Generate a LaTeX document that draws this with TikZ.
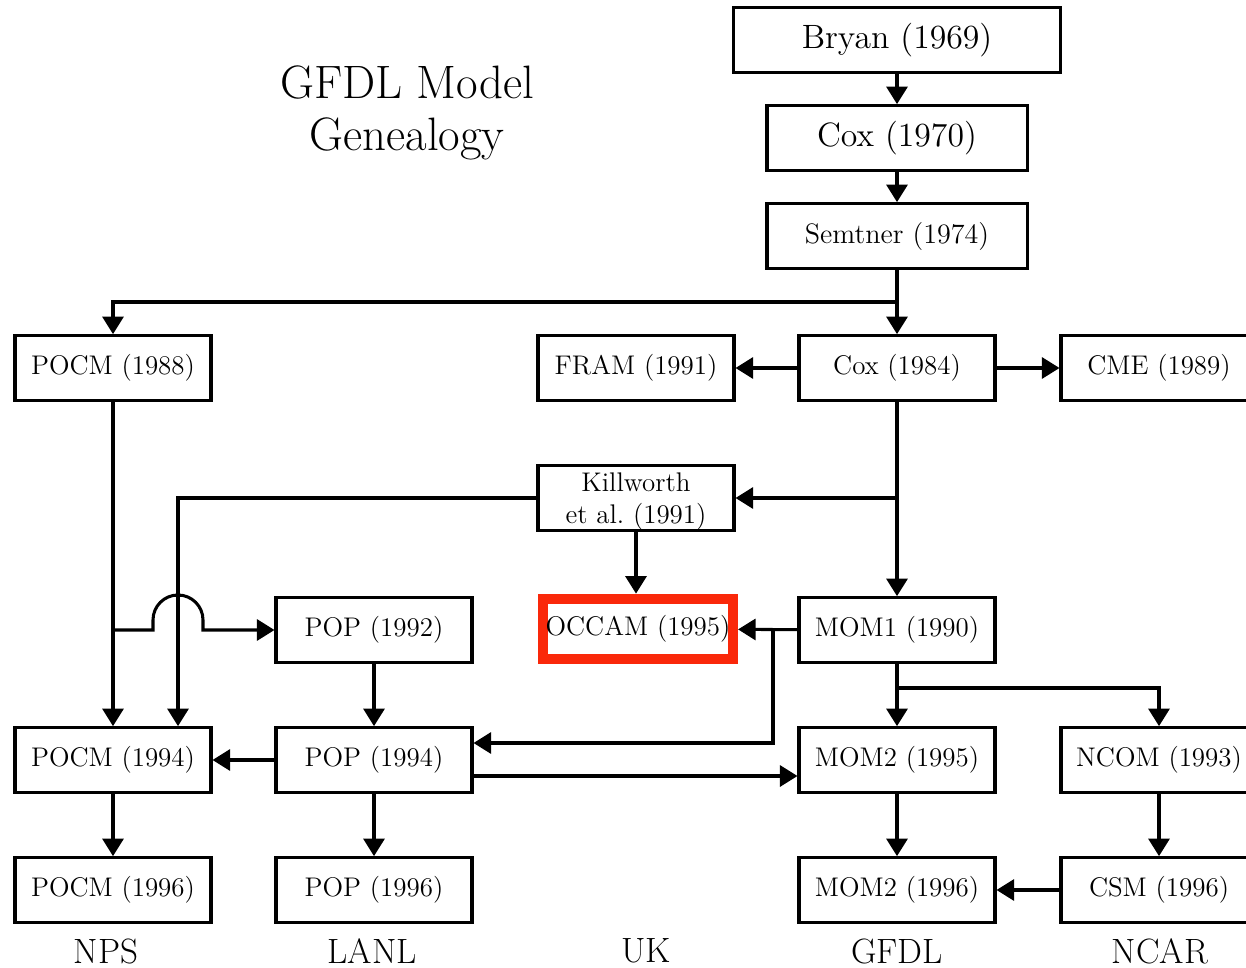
\documentclass[tikz,border=0pt]{standalone}
\usepackage{tikz}
\usetikzlibrary{arrows.meta}

\definecolor{occamred}{RGB}{250,40,10}

\tikzset{
  model/.style={draw, line width=1.3pt, inner sep=0pt, minimum width=2.94cm, minimum height=0.97cm, font=\fontsize{11.5}{13.5}\selectfont},
  wide/.style={model, minimum width=3.9cm, font=\Large},
  arr/.style={line width=1.3pt, -{Triangle[length=7.5pt,width=9pt]}},
  lab/.style={font=\fontsize{15}{17}\selectfont}
}

\begin{document}
\begin{tikzpicture}[x=0.015cm, y=-0.015cm]

\useasboundingbox (0,0) rectangle (1246,968);

\node [align=center, font=\fontsize{20}{22}\selectfont]  (title) at (407,113) {GFDL Model\\Genealogy};

% -------- GFDL trunk -----------
\node [wide, minimum width=4.9cm]  (bryan)   at (897,40)  {Bryan (1969)};
\node [wide]                       (cox70)   at (897,138) {Cox (1970)};
\node [wide, font=\large]          (semtner) at (897,236) {Semtner (1974)};

\node [model]  (pocm88) at (113,368)  {POCM (1988)};
\node [model]  (fram)   at (636,368)  {FRAM (1991)};
\node [model]  (cox84)  at (897,368)  {Cox (1984)};
\node [model]  (cme)    at (1159,368) {CME (1989)};

\node [model, align=center, text depth=0pt]  (killworth) at (636,498) {Killworth\\et al.\ (1991)};

\node [model]  (pop92)  at (374,630)  {POP (1992)};
\node [model, draw=occamred, line width=4.3pt, minimum width=2.85cm, minimum height=0.91cm]  (occam) at (638,629) {OCCAM (1995)};
\node [model]  (mom1)   at (897,630)  {MOM1 (1990)};

\node [model]  (pocm94) at (113,760)  {POCM (1994)};
\node [model]  (pop94)  at (374,760)  {POP (1994)};
\node [model]  (mom295) at (897,760)  {MOM2 (1995)};
\node [model]  (ncom)   at (1159,760) {NCOM (1993)};

\node [model]  (pocm96) at (113,890)  {POCM (1996)};
\node [model]  (pop96)  at (374,890)  {POP (1996)};
\node [model]  (mom296) at (897,890)  {MOM2 (1996)};
\node [model]  (csm)    at (1159,890) {CSM (1996)};

% -------- Centres -----------
\node [lab]  (nps)  at (106,951)  {NPS};
\node [lab]  (lanl) at (372,951)  {LANL};
\node [lab]  (uk)   at (646,951)  {UK};
\node [lab]  (gfdl) at (897,951)  {GFDL};
\node [lab]  (ncar) at (1160,951) {NCAR};

\coordinate (ssplit) at (897,302);
\coordinate (ksplit) at (897,498);
\coordinate (pjoin)  at (113,630);
\coordinate (mjoin)  at (773,630);
\coordinate (nsplit) at (897,688);

\draw [arr]  (bryan) -- (cox70);
\draw [arr]  (cox70) -- (semtner);
\draw [arr]  (semtner) -- (cox84);
\draw [arr]  (ssplit) -| (pocm88);
\draw [arr]  (cox84) -- (fram);
\draw [arr]  (cox84) -- (cme);
\draw [arr]  (cox84) -- (mom1);
\draw [arr]  (ksplit) -- (killworth);
\draw [arr]  (killworth.south) -- (killworth.south |- occam.north);
\draw [arr]  (killworth.west) -| ([xshift=0.975cm]pocm94.north);
\draw [arr]  (pocm88) -- (pocm94);

% hop over the Killworth line
\draw [arr]  (pjoin) -- (153,630) -- (153,620) arc[start angle=180, end angle=0, radius=0.375cm] -- (203,630) -- (pop92);

\draw [arr]  (pop92) -- (pop94);
\draw [arr]  (pop94) -- (pocm94);
\draw [arr]  (mom1) -- (occam);
\draw [arr]  (mjoin) |- ([yshift=0.255cm]pop94.east);
\draw [arr]  ([yshift=-0.24cm]pop94.east) -- ([yshift=-0.24cm]mom295.west);
\draw [arr]  (mom1) -- (mom295);
\draw [arr]  (nsplit) -| (ncom);
\draw [arr]  (ncom) -- (csm);
\draw [arr]  (csm) -- (mom296);
\draw [arr]  (pocm94) -- (pocm96);
\draw [arr]  (pop94) -- (pop96);
\draw [arr]  (mom295) -- (mom296);

\end{tikzpicture}
\end{document}
